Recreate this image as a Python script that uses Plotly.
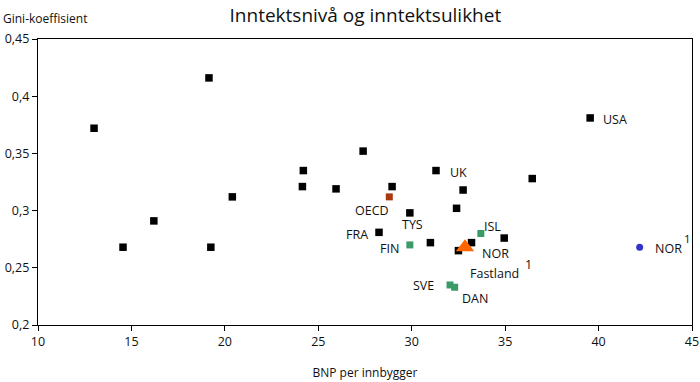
import plotly.graph_objects as go

# Data (BNP per innbygger, Gini-koeffisient)
black_names = ["", "", "", "", "", "", "", "", "", "", "", "UK", "", "", "", "TYS", "FRA", "", "", "", "", "USA"]
black_x = [19.15, 13.0, 24.2, 24.15, 25.95, 20.4, 16.2, 14.55, 19.25, 27.4, 28.95, 31.3, 32.75, 36.45, 32.4, 29.9, 28.25, 34.95, 31.0, 33.2, 32.5, 39.55]
black_y = [0.416, 0.372, 0.335, 0.321, 0.319, 0.312, 0.291, 0.268, 0.268, 0.352, 0.321, 0.335, 0.318, 0.328, 0.302, 0.298, 0.281, 0.276, 0.272, 0.272, 0.265, 0.381]

green_names = ["FIN", "ISL", "SVE", "DAN"]
green_x = [29.9, 33.7, 32.05, 32.3]
green_y = [0.270, 0.280, 0.235, 0.233]

oecd_name = ["OECD"]
oecd_x = [28.8]
oecd_y = [0.312]

norf_name = ["NOR"]
norf_x = [32.85]
norf_y = [0.268]

nor_name = ["NOR"]
nor_x = [42.2]
nor_y = [0.268]

x_ticks = [10, 15, 20, 25, 30, 35, 40, 45]
y_ticks = [0.2, 0.25, 0.3, 0.35, 0.4, 0.45]
y_ticktext = ["0,2", "0,25", "0,3", "0,35", "0,4", "0,45"]

FONT = "Open Sans"
TXT = "#111111"

fig = go.Figure()
fig.add_trace(go.Scatter(x=black_x, y=black_y, mode="markers",
                         marker=dict(symbol="square", size=7.5, color="#000000"),
                         showlegend=False, hoverinfo="skip"))
fig.add_trace(go.Scatter(x=oecd_x, y=oecd_y, mode="markers",
                         marker=dict(symbol="square", size=7, color="#A8380E"),
                         showlegend=False, hoverinfo="skip"))
fig.add_trace(go.Scatter(x=green_x, y=green_y, mode="markers",
                         marker=dict(symbol="square", size=7, color="#3A9A68"),
                         showlegend=False, hoverinfo="skip"))
fig.add_trace(go.Scatter(x=norf_x, y=norf_y, mode="markers",
                         marker=dict(symbol="triangle-up", size=16, color="#FF6600"),
                         showlegend=False, hoverinfo="skip"))
fig.add_trace(go.Scatter(x=nor_x, y=nor_y, mode="markers",
                         marker=dict(symbol="circle", size=7, color="#3333CC"),
                         showlegend=False, hoverinfo="skip"))


def lab(text, x, y, xanchor, xs, ys, size=12.5):
    fig.add_annotation(x=x, y=y, text=text, showarrow=False, xanchor=xanchor,
                       yanchor="middle", xshift=xs, yshift=ys,
                       font=dict(family=FONT, size=size, color=TXT))

# label offsets (pixels)
offsets = {
    "UK": ("left", 12, -2),
    "TYS": ("center", 3, -12),
    "FRA": ("right", -9, -2),
    "USA": ("left", 11, -2),
}
for n, x, y in zip(black_names, black_x, black_y):
    if n:
        a, xs, ys = offsets[n]
        lab(n, x, y, a, xs, ys)

goff = {"FIN": ("right", -9, -4), "ISL": ("left", 1, 7), "SVE": ("right", -14, -1), "DAN": ("left", 5, -11)}
for n, x, y in zip(green_names, green_x, green_y):
    a, xs, ys = goff[n]
    lab(n, x, y, a, xs, ys)

lab(oecd_name[0], oecd_x[0], oecd_y[0], "center", -17, -14)
lab(norf_name[0], norf_x[0], norf_y[0], "left", 15, -6)
lab("Fastland", norf_x[0], norf_y[0], "left", 3, -26)
lab("1", norf_x[0], norf_y[0], "left", 58, -17)
lab(nor_name[0], nor_x[0], nor_y[0], "left", 13, -1)
lab("1", nor_x[0], nor_y[0], "left", 42, 9, size=11.5)

fig.add_annotation(xref="paper", yref="paper", x=-0.057, y=1.0, yshift=21,
                   text="Gini-koeffisient", showarrow=False, xanchor="left", yanchor="middle",
                   font=dict(family=FONT, size=12, color=TXT))

fig.update_layout(
    width=700, height=382,
    margin=dict(l=38, r=8, t=39, b=57, autoexpand=False),
    paper_bgcolor="white", plot_bgcolor="white",
    title=dict(text="Inntektsnivå og inntektsulikhet", x=0.522, xanchor="center", y=0.961,
               yanchor="middle", font=dict(family=FONT, size=19, color=TXT)),
    font=dict(family=FONT, size=12, color=TXT),
)
fig.update_xaxes(range=[10, 45], tickvals=x_ticks, ticks="outside", ticklen=5, tickcolor="#000",
                 showline=True, linecolor="#000", linewidth=1.3, mirror=True, showgrid=False,
                 zeroline=False, automargin=False,
                 title=dict(text="BNP per innbygger", font=dict(family=FONT, size=12), standoff=19),
                 tickfont=dict(family=FONT, size=12.5))
fig.update_yaxes(range=[0.2, 0.45], tickvals=y_ticks, ticktext=y_ticktext, ticks="outside", ticklen=5,
                 tickcolor="#000", showline=True, linecolor="#000", linewidth=1.3, mirror=True,
                 showgrid=False, zeroline=False, automargin=False,
                 tickfont=dict(family=FONT, size=12.5))

fig.write_html("out.html", config={"displayModeBar": False},
               post_script="document.body.style.margin='0px';document.body.style.overflow='hidden';")
